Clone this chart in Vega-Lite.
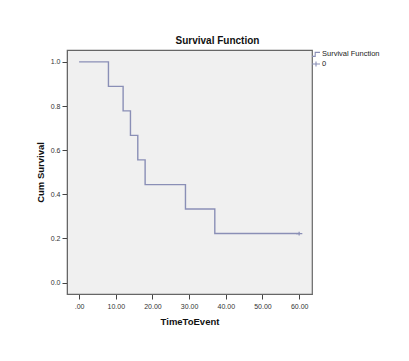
{
  "$schema": "https://vega.github.io/schema/vega-lite/v6.json",
  "autosize": "none",
  "width": 245,
  "height": 244,
  "padding": {"left": 67, "top": 50, "right": 97, "bottom": 67},
  "background": "white",
  "title": {"text": "Survival Function", "fontSize": 10, "font": "Liberation Sans", "fontWeight": "bold", "color": "#111", "offset": 3, "dx": 28},
  "config": {
    "view": {"fill": "#f0f0f0", "stroke": "#666", "strokeWidth": 1.2},
    "axis": {"labelFont": "Liberation Sans", "labelFontSize": 7, "labelColor": "#333", "titleFont": "Liberation Sans", "titleFontSize": 9.5, "titleFontWeight": "bold", "titleColor": "#111", "tickColor": "#444", "domainColor": "#666", "grid": false, "tickSize": 5}
  },
  "datasets": {
    "km": [
      {"time": 0, "surv": 1.0},
      {"time": 8, "surv": 0.889},
      {"time": 12, "surv": 0.778},
      {"time": 14, "surv": 0.667},
      {"time": 16, "surv": 0.556},
      {"time": 18, "surv": 0.444},
      {"time": 29, "surv": 0.333},
      {"time": 37, "surv": 0.222},
      {"time": 60, "surv": 0.222}
    ],
    "cens": [
      {"time": 60, "surv": 0.222, "series": "0"}
    ]
  },
  "layer": [
    {
      "data": {"name": "km"},
      "mark": {"type": "line", "interpolate": "step-after", "color": "#8a8fb6", "strokeWidth": 1.4},
      "encoding": {
        "x": {"field": "time", "type": "quantitative", "title": "TimeToEvent",
              "scale": {"domain": [-3.3, 63.5], "nice": false, "zero": false},
              "axis": {"values": [0, 10, 20, 30, 40, 50, 60], "labelExpr": "datum.value == 0 ? '.00' : format(datum.value, '.2f')", "titlePadding": 7, "labelPadding": 3}},
        "y": {"field": "surv", "type": "quantitative", "title": "Cum Survival",
              "scale": {"domain": [-0.052, 1.054], "nice": false, "zero": false},
              "axis": {"values": [0, 0.2, 0.4, 0.6, 0.8, 1.0], "format": ".1f", "titlePadding": 5, "labelPadding": 2}}
      }
    },
    {
      "data": {"name": "cens"},
      "mark": {"type": "point", "filled": false, "strokeWidth": 1.2, "opacity": 1},
      "encoding": {
        "x": {"field": "time", "type": "quantitative"},
        "y": {"field": "surv", "type": "quantitative"},
        "shape": {"field": "series", "type": "nominal",
          "scale": {"domain": ["Survival Function", "0"], "range": ["M-1,0.6L-0.2,0.6L-0.2,-0.4L1,-0.4", "M-1,0L1,0M0,-0.6L0,0.6"]},
          "legend": {"title": null, "orient": "none", "legendX": 244, "legendY": -1, "labelFont": "Liberation Sans", "labelFontSize": 7.5, "labelColor": "#222", "symbolStrokeColor": "#8a8fb6", "symbolStrokeWidth": 1.1, "symbolSize": 64, "rowPadding": 0, "labelOffset": 1, "symbolOffset": 0}},
        "color": {"value": "#8a8fb6"},
        "size": {"value": 40}
      }
    }
  ]
}
